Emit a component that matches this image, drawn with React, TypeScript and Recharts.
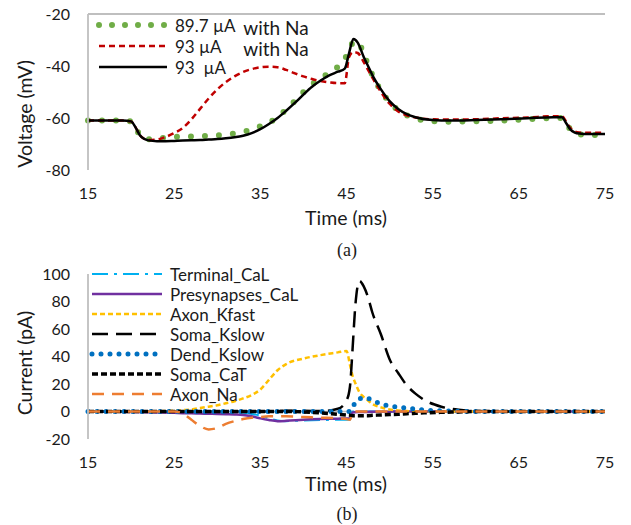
import React from "react";
import { LineChart, Line, XAxis, YAxis, ReferenceLine } from "recharts";

// (a) membrane voltage, mV
const timeA = [15, 17, 19, 20, 20.5, 21, 21.5, 22, 23, 24, 25, 26, 27, 28, 29, 30, 31, 32, 33, 34, 35, 36, 37, 38, 39, 40, 41, 42, 43, 44, 44.8, 45.3, 45.8, 46.3, 47, 47.5, 48, 49, 50, 51, 52, 53, 55, 57, 60, 63, 66, 69, 70, 70.5, 71, 71.5, 72, 73, 75];
const na897 = [-61, -61, -61, -61.3, -63.5, -66.5, -67.8, -68.2, -68, -67.6, -67.3, -67.2, -67.1, -67, -66.9, -66.7, -66.4, -66, -65.4, -64.4, -63.2, -61.8, -59.6, -56.8, -53.5, -50, -47, -44.8, -42.6, -40.3, -37.5, -33.5, -31, -30.6, -35.5, -39.5, -43.5, -49.5, -54, -57, -59, -60.2, -61.2, -61.4, -61.3, -61, -60.5, -60, -60, -62, -64.5, -65.8, -66.3, -66.5, -66.5];
const na93 = [-61, -61, -61, -61.3, -63.5, -66.5, -68, -68.5, -68.3, -67.3, -65.8, -63.8, -60.5, -56.5, -52.5, -49, -46.2, -44, -42.3, -41.2, -40.5, -40.3, -40.5, -41.5, -42.8, -44, -45, -45.8, -46.3, -46.6, -46.6, -36.5, -34.6, -35, -38.5, -41.5, -44.5, -50, -54.5, -57.5, -59, -59.8, -60.5, -60.6, -60.5, -60.1, -59.8, -59.3, -59.3, -61.5, -64, -65.2, -65.6, -65.7, -65.7];
const noNa93 = [-61, -61, -61, -61.3, -63.5, -66.5, -68, -68.6, -68.9, -68.9, -68.8, -68.7, -68.6, -68.5, -68.3, -68.1, -67.8, -67.4, -66.8, -65.8, -64.3, -62.3, -60, -57.2, -54.2, -51, -48, -45.6, -43.6, -42.2, -41, -35, -29.6, -31, -36.5, -40, -43.5, -49, -53.5, -56.5, -58.5, -59.7, -60.8, -61, -60.8, -60.5, -60.1, -59.7, -59.7, -62, -64.5, -65.6, -66, -66.2, -66.2];

// (b) currents, pA
const timeB = [15, 20, 25, 26, 27, 28, 29, 30, 31, 32, 33, 34, 35, 36, 37, 38, 40, 42, 44, 45, 45.4, 45.7, 46, 46.5, 47, 47.5, 48, 49, 50, 51, 52, 53, 54, 56, 58, 60, 65, 70, 75];
const terminalCaL = [0, 0, 0, 0, 0, 0, 0, 0, -0.3, -0.5, -1, -1.8, -3, -5, -6.5, -7, -6.5, -6.2, -6, -6, -6, 0, 0, 0, 0, 0, 0, 0, 0, 0, 0, 0, 0, 0, 0, 0, 0, 0, 0];
const presynCaL = [0, -0.3, -1, -1.2, -1.3, -1.5, -1.6, -1.8, -2, -2.2, -2.5, -3.5, -5, -6.2, -7, -6.8, -6, -5.5, -5.2, -5, -5, -0.7, -0.5, -0.4, -0.3, -0.3, -0.2, -0.2, -0.1, 0, 0, 0, 0, 0, 0, 0, 0, 0, 0];
const axonKfast = [0, 0, 0.5, 1, 1.5, 2.5, 3.5, 4.5, 6, 7.5, 9.5, 12, 16, 23, 30, 34.5, 38.5, 41, 43, 44, 34, 26, 21, 14, 10.5, 8, 5.5, 3, 1.5, 0.7, 0.3, 0, 0, 0, 0, 0, 0, 0, 0];
const somaKslow = [0, 0, 0, 0, 0, 0, 0, 0, 0, 0, 0, 0, 0, 0, 0.3, 0.5, 0.5, 0.3, 2, 8, 18, 45, 75, 95, 91, 83, 72, 56, 38, 28, 19, 13, 8.5, 3.5, 1.2, 0.3, 0, 0, 0];
const dendKslow = [0, 0, 0, 0, 0, 0, 0, 0, 0, 0, 0, 0, 0, 0, 0, 0, 0, 0, 0, 0, 0, 2.5, 6.5, 9, 10, 9.5, 8.2, 5.5, 4, 3.2, 2.5, 1.7, 1.1, 0.5, 0.2, 0, 0, 0, 0];
const somaCaT = [0, 0, 0, 0, 0, 0, 0, 0, 0, 0, 0, 0, 0, 0, 0, 0, -0.3, -1, -2, -2.5, -2.7, -3, -3, -3, -3, -3, -2.8, -2.5, -2.2, -2, -1.6, -1.3, -1, -0.6, -0.3, 0, 0, 0, 0];
const axonNa = [0, 0, 0, -1.5, -6, -10.5, -13, -12, -9, -7, -5.5, -4.5, -4, -3.5, -3.5, -3.5, -4, -4.5, -5, -5.5, -6, -0.5, 0, 0, 0, 0, 0, 0, 0, 0, 0, 0, 0, 0, 0, 0, 0, 0, 0];

const timeTicks = [15, 25, 35, 45, 55, 65, 75];
const voltageTicks = [-80, -60, -40, -20];
const currentTicks = [-20, 0, 20, 40, 60, 80, 100];

const voltageData = timeA.map((t, i) => ({ t, na897: na897[i], na93: na93[i], noNa93: noNa93[i] }));
const currentData = timeB.map((t, i) => ({
  t,
  terminalCaL: terminalCaL[i],
  presynCaL: presynCaL[i],
  axonKfast: axonKfast[i],
  somaKslow: somaKslow[i],
  dendKslow: dendKslow[i],
  somaCaT: somaCaT[i],
  axonNa: axonNa[i],
}));

const FONT = "Lato, 'Open Sans', sans-serif";
const GRID = "#bfbfbf";

const voltageSeries = [
  { key: "na897", name: "89.7 µA", color: "#70ad47", width: 6, dash: "0 14", legendDash: "0 13", cap: "round" },
  { key: "na93", name: "93 µA", color: "#c00000", width: 2.5, dash: "6 4" },
  { key: "noNa93", name: "93  µA", color: "#000000", width: 2.5 },
];

const currentSeries = [
  { key: "terminalCaL", name: "Terminal_CaL", color: "#00b0f0", width: 2, dash: "16 6 3 6" },
  { key: "presynCaL", name: "Presynapses_CaL", color: "#7030a0", width: 2.5 },
  { key: "axonKfast", name: "Axon_Kfast", color: "#ffc000", width: 2.5, dash: "5 3" },
  { key: "somaKslow", name: "Soma_Kslow", color: "#000000", width: 2.5, dash: "16 8" },
  { key: "dendKslow", name: "Dend_Kslow", color: "#0070c0", width: 5, dash: "0 9", cap: "round" },
  { key: "somaCaT", name: "Soma_CaT", color: "#000000", width: 3.5, dash: "6 3" },
  { key: "axonNa", name: "Axon_Na", color: "#ed7d31", width: 2.5, dash: "12 8" },
];

const tickStyle = { fill: "#1a1a1a", fontSize: 16, fontFamily: FONT };

const LegendBox = ({ series, top, left, rowGap, swatch }) => (
  <div style={{ position: "absolute", top, left }}>
    {series.map((s, i) => (
      <div key={s.key} style={{ position: "absolute", top: i * rowGap - 10, left: 0, height: 20, display: "flex", alignItems: "center", whiteSpace: "pre" }}>
        <svg width={swatch} height={12} style={{ display: "block" }}>
          <line x1={3} y1={6} x2={swatch - 3} y2={6} stroke={s.color} strokeWidth={s.width} strokeDasharray={s.legendDash ?? s.dash} strokeLinecap={s.cap ?? "butt"} />
        </svg>
        <span style={{ marginLeft: 5, fontSize: 17, color: "#1a1a1a", fontFamily: FONT }}>{s.name}</span>
      </div>
    ))}
  </div>
);

const Title = ({ text, x, y, rotate, size = 19.5, family = FONT }) => (
  <div
    style={{
      position: "absolute",
      left: x,
      top: y,
      transform: `translate(-50%, -50%)${rotate ? " rotate(-90deg)" : ""}`,
      fontSize: size,
      fontFamily: family,
      color: "#1a1a1a",
      whiteSpace: "nowrap",
      lineHeight: 1,
    }}
  >
    {text}
  </div>
);

export default function App() {
  return (
    <div style={{ position: "absolute", top: 0, left: 0, width: 631, height: 525, background: "#fff", fontFamily: FONT }}>
      <div style={{ position: "absolute", top: 0, left: 0 }}>
        <LineChart width={631} height={210} data={voltageData} margin={{ top: 14, right: 26, bottom: 0, left: 0 }}>
          <XAxis dataKey="t" type="number" domain={[15, 75]} ticks={timeTicks} axisLine={false} tickLine={false} tickMargin={12} height={40} tick={tickStyle} />
          <YAxis type="number" domain={[-80, -20]} ticks={voltageTicks} width={88} axisLine={{ stroke: GRID, strokeWidth: 1.8 }} tickLine={false} tickMargin={12} tick={tickStyle} />
          <ReferenceLine y={-20} stroke={GRID} strokeWidth={1.8} />
          {voltageSeries.map((s) => (
            <Line key={s.key} dataKey={s.key} type="monotone" stroke={s.color} strokeWidth={s.width} strokeDasharray={s.dash} strokeLinecap={s.cap ?? "butt"} dot={false} isAnimationActive={false} />
          ))}
        </LineChart>
      </div>
      <LegendBox series={voltageSeries} top={25} left={96} rowGap={21} swatch={74} />
      <Title text="with Na" x={276} y={27} size={19} />
      <Title text="with Na" x={276} y={48} size={19} />
      <Title text="Voltage (mV)" x={25} y={114} rotate />
      <Title text="Time (ms)" x={346} y={218} />
      <Title text="(a)" x={347} y={250} size={18} family="'Liberation Serif', serif" />

      <div style={{ position: "absolute", top: 260, left: 0 }}>
        <LineChart width={631} height={220} data={currentData} margin={{ top: 14, right: 26, bottom: 0, left: 0 }}>
          <XAxis dataKey="t" type="number" domain={[15, 75]} ticks={timeTicks} axisLine={false} tickLine={false} tickMargin={12} height={41} tick={tickStyle} />
          <YAxis type="number" domain={[-20, 100]} ticks={currentTicks} width={88} axisLine={{ stroke: GRID, strokeWidth: 1.8 }} tickLine={false} tickMargin={12} tick={tickStyle} />
          <ReferenceLine y={0} stroke={GRID} strokeWidth={1.5} />
          {currentSeries.map((s) => (
            <Line key={s.key} dataKey={s.key} type="monotone" stroke={s.color} strokeWidth={s.width} strokeDasharray={s.dash} strokeLinecap={s.cap ?? "butt"} dot={false} isAnimationActive={false} />
          ))}
        </LineChart>
      </div>
      <LegendBox series={currentSeries} top={274} left={89} rowGap={20} swatch={76} />
      <Title text="Current (pA)" x={25} y={363} rotate />
      <Title text="Time (ms)" x={346} y={484} />
      <Title text="(b)" x={347} y={514} size={18} family="'Liberation Serif', serif" />
    </div>
  );
}
